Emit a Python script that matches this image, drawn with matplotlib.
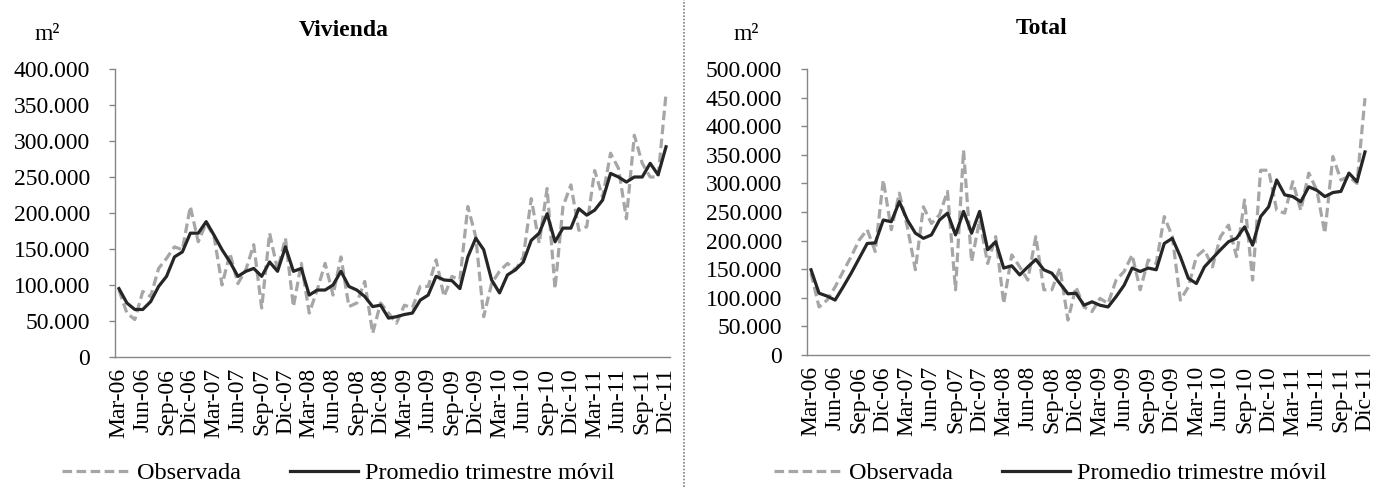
import numpy as np
import matplotlib
matplotlib.use("Agg")
import matplotlib.pyplot as plt
from matplotlib.ticker import FuncFormatter
from matplotlib.lines import Line2D

plt.rcParams['font.family'] = ['Liberation Serif', 'DejaVu Serif']

# month labels Mar-06 .. Dic-11 (70 months)
mes = ['Ene', 'Feb', 'Mar', 'Abr', 'May', 'Jun', 'Jul', 'Ago', 'Sep', 'Oct', 'Nov', 'Dic']
meses = []
for a in range(6, 12):
    for m in range(12):
        if a == 6 and m < 2:
            continue
        meses.append('%s-%02d' % (mes[m], a))

# Vivienda, m2 (miles)
viv_obs = [93, 61, 52, 91, 84, 123, 137, 153, 149, 209, 160, 186, 167, 100, 144, 102, 121, 156, 68, 172,
           121, 165, 70, 130, 61, 93, 130, 86, 139, 70, 75, 105, 33, 75, 61, 47, 72, 68, 98, 98,
           135, 84, 112, 107, 209, 167, 56, 102, 119, 130, 121, 139, 220, 158, 234, 95, 209, 239, 176, 181,
           259, 222, 283, 262, 192, 308, 269, 250, 250, 366]
viv_prom = [95, 75, 66, 66, 77, 98, 112, 139, 146, 172, 172, 188, 169, 149, 132, 112, 119, 123, 112, 132,
            119, 153, 119, 123, 86, 93, 93, 100, 119, 98, 93, 84, 70, 72, 54, 56, 59, 61, 79, 86,
            112, 107, 106, 95, 139, 165, 149, 107, 89, 114, 121, 132, 162, 172, 199, 160, 179, 179, 206, 197,
            204, 218, 255, 250, 243, 250, 250, 269, 253, 292]

# Total, m2 (miles)
tot_obs = [143, 84, 96, 119, 146, 172, 201, 219, 181, 306, 219, 283, 224, 149, 259, 230, 245, 286, 114, 358,
           163, 236, 160, 207, 90, 175, 154, 131, 207, 114, 114, 152, 61, 119, 84, 76, 99, 90, 131, 146,
           175, 114, 166, 160, 242, 207, 96, 119, 172, 184, 154, 207, 227, 172, 271, 131, 323, 323, 253, 248,
           303, 253, 318, 288, 213, 347, 306, 312, 300, 449]
tot_prom = [149, 108, 103, 96, 119, 143, 169, 195, 196, 236, 233, 268, 236, 213, 204, 210, 236, 248, 210, 251,
            213, 251, 184, 198, 152, 156, 140, 154, 167, 149, 143, 125, 107, 108, 87, 93, 87, 84, 102, 122,
            152, 146, 152, 149, 195, 204, 172, 134, 125, 154, 169, 184, 198, 204, 224, 192, 242, 259, 306, 280,
            277, 268, 294, 288, 277, 284, 286, 318, 303, 355]

titulos = ['Vivienda', 'Total']
ymax = [400000, 500000]

fig = plt.figure(figsize=(13.78, 4.87), dpi=100)
W, H = 1378.0, 487.0

def fmt_miles(v, pos):
    return '{:,.0f}'.format(v).replace(',', '.')

def panel(rect, obs, prom, top):
    ax = fig.add_axes(rect)
    x = np.arange(len(meses))
    ax.plot(x, np.array(obs) * 1000, color='#A6A6A6', lw=2.3, dashes=(3, 1.4), solid_joinstyle='round')
    ax.plot(x, np.array(prom) * 1000, color='#262626', lw=2.3, solid_joinstyle='round')
    ax.set_xlim(-0.5, len(meses) - 0.5)
    ax.set_ylim(0, top)
    ax.set_yticks(np.arange(0, top + 1, 50000))
    ax.yaxis.set_major_formatter(FuncFormatter(fmt_miles))
    ax.set_xticks(x[::3])
    ax.set_xticklabels(meses[::3], rotation=90, va='top', ha='center')
    for s in ['top', 'right']:
        ax.spines[s].set_visible(False)
    for s in ['left', 'bottom']:
        ax.spines[s].set_color('#868686')
        ax.spines[s].set_linewidth(1.0)
    ax.tick_params(axis='y', length=4, width=1.0, color='#868686', pad=14, labelsize=17)
    ax.tick_params(axis='x', length=0, pad=8, labelsize=17)
    return ax

ax1 = panel([115 / W, (H - 357) / H, 555 / W, (357 - 69) / H], viv_obs, viv_prom, ymax[0])
ax2 = panel([807 / W, (H - 355) / H, 562 / W, (355 - 69) / H], tot_obs, tot_prom, ymax[1])

# titles and units
fig.text(344 / W, 1 - 30 / H, titulos[0], ha='center', va='center', fontsize=17, fontweight='bold')
fig.text(1042 / W, 1 - 28 / H, titulos[1], ha='center', va='center', fontsize=17, fontweight='bold')
fig.text(47 / W, 1 - 35 / H, 'm²', ha='center', va='center', fontsize=17)
fig.text(746 / W, 1 - 35 / H, 'm²', ha='center', va='center', fontsize=17)

# legends
handles = [Line2D([], [], color='#A6A6A6', lw=2.3, dashes=(3, 1.4)),
           Line2D([], [], color='#262626', lw=2.3)]
labels = ['Observada', 'Promedio trimestre móvil']
for cx in [338, 1050]:
    fig.legend(handles, labels, loc='center', bbox_to_anchor=(cx / W, 1 - 473 / H), ncol=2,
               frameon=False, fontsize=17.5, handlelength=2.8, handletextpad=0.3, columnspacing=2.0,
               borderaxespad=0)

# dotted separator between panels
fig.add_artist(Line2D([684 / W, 684 / W], [0, 1], color='#7F7F7F', lw=1.2, ls=(0, (1, 1))))

fig.savefig('out.png', dpi=100)
